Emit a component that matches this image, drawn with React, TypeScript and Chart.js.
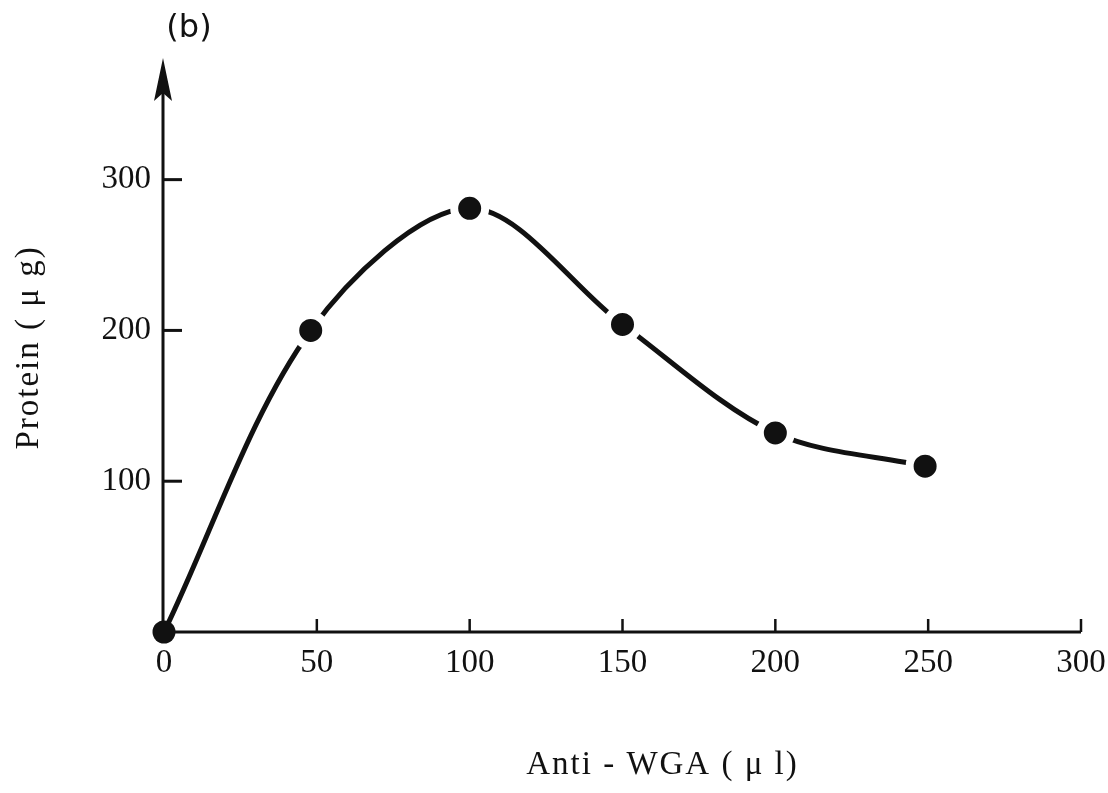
import React, { useEffect, useRef } from 'react';
import { Chart, registerables } from 'chart.js';

Chart.register(...registerables);

// Data
const antiWGA = [0, 48, 100, 150, 200, 249];
const protein = [0, 200, 281, 204, 132, 110];
const xTickValues = [0, 50, 100, 150, 200, 250, 300];
const yTickValues = [100, 200, 300];
const xTitle = 'Anti - WGA ( μ l)';
const yTitle = 'Protein ( μ g)';
const panelLabel = '(b)';

const INK = '#111111';
const SERIF = '"Liberation Serif", "DejaVu Serif", serif';

const axesPlugin = {
  id: 'handAxes',
  beforeDatasetsDraw(chart: any) {
    const { ctx, chartArea: ca, scales } = chart;
    const x = scales.x;
    const y = scales.y;
    const x0 = x.getPixelForValue(0);
    const y0 = y.getPixelForValue(0);
    const xEnd = x.getPixelForValue(xTickValues[xTickValues.length - 1]);
    ctx.save();
    ctx.strokeStyle = INK;
    ctx.fillStyle = INK;
    ctx.lineCap = 'butt';
    // y axis
    ctx.lineWidth = 3;
    ctx.beginPath();
    ctx.moveTo(x0 - 1, y0 + 1);
    ctx.lineTo(x0 - 1, ca.top + 30);
    ctx.stroke();
    // arrow head
    ctx.beginPath();
    ctx.moveTo(x0 - 1, ca.top - 1);
    ctx.lineTo(x0 - 10, ca.top + 42);
    ctx.lineTo(x0 - 1, ca.top + 34);
    ctx.lineTo(x0 + 8, ca.top + 42);
    ctx.closePath();
    ctx.fill();
    // x axis
    ctx.beginPath();
    ctx.moveTo(x0 - 2, y0);
    ctx.lineTo(xEnd, y0);
    ctx.stroke();
    // y ticks (inward)
    yTickValues.forEach((v) => {
      const py = y.getPixelForValue(v);
      ctx.beginPath();
      ctx.moveTo(x0, py);
      ctx.lineTo(x0 + 18, py);
      ctx.stroke();
    });
    // x ticks (upward)
    ctx.lineWidth = 2.5;
    xTickValues.filter((v) => v > 0).forEach((v) => {
      const px = x.getPixelForValue(v);
      ctx.beginPath();
      ctx.moveTo(px, y0);
      ctx.lineTo(px, y0 - 13);
      ctx.stroke();
    });
    ctx.restore();
  },
  afterDraw(chart: any) {
    const { ctx, chartArea: ca } = chart;
    ctx.save();
    ctx.fillStyle = INK;
    ctx.font = `33px ${SERIF}`;
    ctx.textAlign = 'center';
    ctx.textBaseline = 'middle';
    try {
      (ctx as any).letterSpacing = '2px';
    } catch (e) {
      /* ignore */
    }
    // x title
    ctx.fillText(xTitle, (ca.left + ca.right) / 2 + 40, ca.bottom + 133);
    // y title
    ctx.save();
    ctx.translate(29, (ca.top + ca.bottom) / 2 + 2);
    ctx.rotate(-Math.PI / 2);
    ctx.fillText(yTitle, 0, 0);
    ctx.restore();
    try {
      (ctx as any).letterSpacing = '0px';
    } catch (e) {
      /* ignore */
    }
    // panel label
    ctx.font = `32px "DejaVu Sans", sans-serif`;
    ctx.fillText(panelLabel, ca.left + 25, ca.top - 30);
    ctx.restore();
  },
};

export default function App() {
  const canvasRef = useRef<HTMLCanvasElement | null>(null);

  useEffect(() => {
    document.body.style.margin = '0';
    const canvas = canvasRef.current;
    if (!canvas) return;
    const chart = new Chart(canvas, {
      type: 'line',
      data: {
        datasets: [
          {
            data: antiWGA.map((v, i) => ({ x: v, y: protein[i] })),
            borderColor: INK,
            borderWidth: 5,
            tension: 0.32,
            fill: false,
            clip: false,
            pointRadius: antiWGA.map((_, i) => (i === 0 ? 11.5 : 15.5)),
            pointBorderWidth: antiWGA.map((_, i) => (i === 0 ? 0 : 8)),
            pointBackgroundColor: INK,
            pointBorderColor: '#ffffff',
            pointHoverRadius: 15.5,
          } as any,
        ],
      },
      options: {
        animation: false,
        responsive: false,
        maintainAspectRatio: false,
        layout: { padding: { left: 0, right: 27, top: 59, bottom: 0 } },
        plugins: {
          legend: { display: false },
          tooltip: { enabled: false },
          title: { display: false },
        },
        scales: {
          x: {
            type: 'linear',
            min: 0,
            max: 300,
            afterFit: (s: any) => {
              s.height = 161;
              s.paddingLeft = 0;
              s.paddingRight = 0;
            },
            afterBuildTicks: (s: any) => {
              s.ticks = xTickValues.map((v) => ({ value: v }));
            },
            grid: { display: false, drawTicks: false },
            border: { display: false },
            ticks: {
              padding: 12,
              color: INK,
              font: { family: SERIF, size: 33 },
              maxRotation: 0,
              autoSkip: false,
            },
          },
          y: {
            type: 'linear',
            min: 0,
            max: 380,
            afterFit: (s: any) => {
              s.width = 164;
              s.paddingTop = 0;
              s.paddingBottom = 0;
            },
            afterBuildTicks: (s: any) => {
              s.ticks = yTickValues.map((v) => ({ value: v }));
            },
            grid: { display: false, drawTicks: false },
            border: { display: false },
            ticks: {
              padding: 13,
              color: INK,
              font: { family: SERIF, size: 33 },
              autoSkip: false,
            },
          },
        },
      },
      plugins: [axesPlugin],
    });
    return () => chart.destroy();
  }, []);

  return (
    <div style={{ width: 1108, height: 793, background: '#ffffff' }}>
      <canvas ref={canvasRef} width={1108} height={793} style={{ display: 'block' }} />
    </div>
  );
}
